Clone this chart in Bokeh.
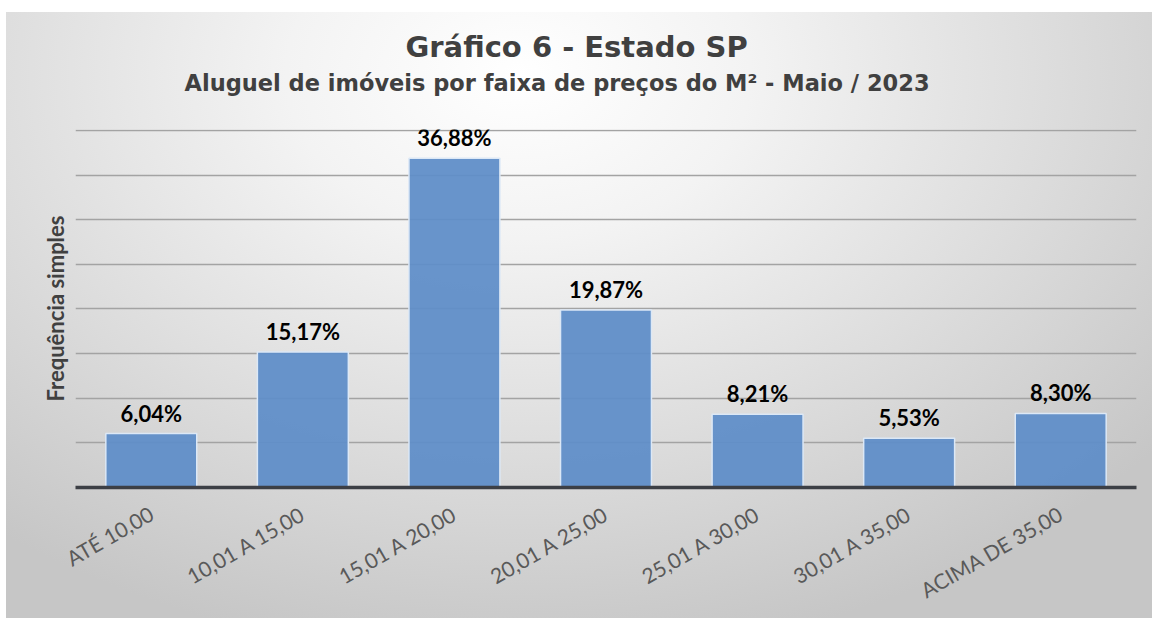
from math import pi
from bokeh.plotting import figure
from bokeh.models import (ColumnDataSource, FactorRange, Range1d, FixedTicker,
                          LabelSet, Title)
from bokeh.core.properties import value
from bokeh.embed import file_html
from bokeh.resources import INLINE

# ---- data ----
categories = ["ATÉ 10,00", "10,01 A 15,00", "15,01 A 20,00", "20,01 A 25,00",
              "25,01 A 30,00", "30,01 A 35,00", "ACIMA DE 35,00"]
percent = [6.04, 15.17, 36.88, 19.87, 8.21, 5.53, 8.30]
grid_ticks = [5, 10, 15, 20, 25, 30, 35, 40]

title_text = "Gráfico 6 - Estado SP"
subtitle_text = "Aluguel de imóveis por faixa de preços do M² - Maio / 2023"
y_label = "Frequência simples"

labels = [f"{v:.2f}".replace(".", ",") + "%" for v in percent]
src = ColumnDataSource(dict(cat=categories, val=percent, lab=labels))

p = figure(width=1152, height=618, output_backend="svg", toolbar_location=None,
           x_range=FactorRange(*categories, range_padding=0),
           y_range=Range1d(0, 40.1),
           min_border_left=75, min_border_right=16,
           min_border_top=129, min_border_bottom=131)

p.border_fill_color = None
p.background_fill_color = None
p.outline_line_color = None
p.styles = {
    "background": "linear-gradient(#ffffff, #ffffff) top left / 100% 12px no-repeat, "
                  "linear-gradient(#ffffff, #ffffff) top left / 6px 100% no-repeat, "
                  "radial-gradient(ellipse 72% 95% at 45% 12%, #ffffff 0%, #f3f3f3 28%, "
                  "#dedede 62%, #c6c6c6 100%)"
}

p.vbar(x="cat", top="val", width=0.6, source=src,
       fill_color="#608ec8", fill_alpha=0.95,
       line_color="#dce8f6", line_width=1.5)

p.add_layout(LabelSet(x="cat", y="val", text="lab", source=src,
                      text_align="center", text_baseline="alphabetic",
                      y_offset=12, text_font=value("Lato"),
                      text_font_style=value("bold"),
                      text_font_size=value("22px"), text_color=value("#000000")))

# grid
p.xgrid.grid_line_color = None
p.ygrid.ticker = FixedTicker(ticks=grid_ticks)
p.ygrid.grid_line_color = "#a3a3a3"
p.ygrid.grid_line_width = 1.5

# y axis: only its title
yax = p.yaxis[0]
yax.ticker = FixedTicker(ticks=[])
yax.axis_line_color = None
yax.major_tick_line_color = None
yax.minor_tick_line_color = None
yax.major_tick_out = 0
yax.major_tick_in = 0
yax.major_label_standoff = 0
yax.axis_label = y_label
yax.axis_label_standoff = 7
yax.axis_label_text_font = "Lato"
yax.axis_label_text_font_style = "bold"
yax.axis_label_text_font_size = "22px"
yax.axis_label_text_color = "#404040"

# x axis
xax = p.xaxis[0]
xax.axis_line_color = "#3c3f45"
xax.axis_line_width = 3.5
xax.major_tick_line_color = None
xax.minor_tick_line_color = None
xax.major_tick_out = 0
xax.major_label_orientation = pi / 6
xax.major_label_standoff = 24
xax.major_label_text_font = "Lato"
xax.major_label_text_font_size = "21px"
xax.major_label_text_color = "#595959"

# titles (first added sits nearest the plot); the first is an empty spacer
p.add_layout(Title(text=" ", standoff=31, text_font_size="1px"), "above")
p.add_layout(Title(text=subtitle_text, align="left", offset=109, standoff=0,
                   text_font="DejaVu Sans", text_font_style="bold",
                   text_font_size="22.5px", text_color="#404040"), "above")
p.add_layout(Title(text=title_text, align="left", offset=330, standoff=8,
                   text_font="DejaVu Sans", text_font_style="bold",
                   text_font_size="29px", text_color="#404040"), "above")

open("out.html", "w").write(file_html(p, INLINE))
